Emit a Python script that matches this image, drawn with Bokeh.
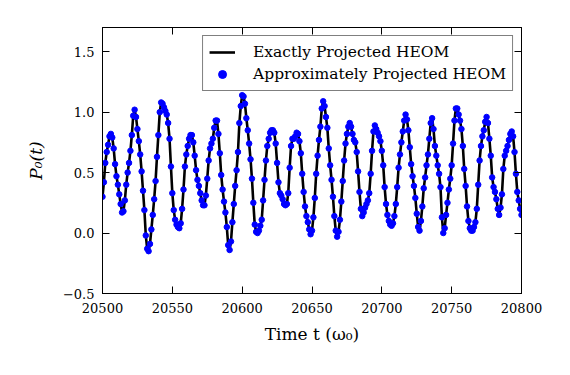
from bokeh.plotting import figure
from bokeh.models import (ColumnDataSource, Range1d, FixedTicker, LinearAxis,
                          Legend, LegendItem)
from bokeh.embed import file_html
from bokeh.resources import INLINE

# ---- data ----
t_start = 20500
t_step = 1.0
p0_values = [
    0.30, 0.42, 0.58, 0.67, 0.73, 0.80, 0.82, 0.79, 0.70, 0.57,
    0.47, 0.40, 0.32, 0.24, 0.17, 0.18, 0.27, 0.40, 0.50, 0.58,
    0.68, 0.81, 0.97, 1.02, 0.96, 0.86, 0.76, 0.65, 0.51, 0.35,
    0.19, -0.02, -0.13, -0.15, -0.09, 0.03, 0.15, 0.28, 0.43, 0.63,
    0.81, 1.00, 1.08, 1.07, 1.04, 1.01, 0.98, 0.91, 0.78, 0.55,
    0.33, 0.19, 0.11, 0.07, 0.05, 0.04, 0.08, 0.20, 0.36, 0.55,
    0.65, 0.72, 0.78, 0.81, 0.81, 0.75, 0.64, 0.52, 0.44, 0.39,
    0.33, 0.27, 0.23, 0.23, 0.31, 0.45, 0.60, 0.70, 0.74, 0.78,
    0.87, 0.93, 0.93, 0.82, 0.66, 0.48, 0.36, 0.26, 0.17, 0.05,
    -0.10, -0.14, -0.07, 0.09, 0.24, 0.39, 0.52, 0.67, 0.91, 1.05,
    1.14, 1.13, 1.07, 0.95, 0.85, 0.74, 0.61, 0.45, 0.25, 0.07,
    0.01, 0.00, 0.02, 0.06, 0.11, 0.27, 0.44, 0.60, 0.72, 0.78,
    0.83, 0.85, 0.85, 0.83, 0.74, 0.58, 0.42, 0.33, 0.31, 0.28,
    0.24, 0.23, 0.24, 0.33, 0.54, 0.72, 0.78, 0.78, 0.80, 0.83,
    0.82, 0.76, 0.66, 0.49, 0.34, 0.22, 0.14, 0.09, 0.03, -0.01,
    0.02, 0.13, 0.29, 0.49, 0.64, 0.77, 0.88, 1.03, 1.09, 1.05,
    0.96, 0.87, 0.70, 0.56, 0.44, 0.30, 0.14, 0.02, -0.03, 0.01,
    0.11, 0.26, 0.43, 0.60, 0.74, 0.82, 0.88, 0.91, 0.88, 0.82,
    0.77, 0.75, 0.67, 0.51, 0.34, 0.20, 0.14, 0.17, 0.21, 0.24,
    0.27, 0.33, 0.49, 0.68, 0.84, 0.89, 0.86, 0.83, 0.80, 0.76,
    0.68, 0.56, 0.38, 0.24, 0.15, 0.10, 0.07, 0.06, 0.08, 0.14,
    0.24, 0.38, 0.54, 0.65, 0.75, 0.84, 0.93, 0.98, 0.94, 0.85,
    0.71, 0.57, 0.47, 0.39, 0.29, 0.16, 0.05, 0.02, 0.10, 0.22,
    0.37, 0.46, 0.56, 0.65, 0.78, 0.91, 0.95, 0.86, 0.72, 0.64,
    0.56, 0.49, 0.38, 0.13, 0.00, 0.04, 0.15, 0.25, 0.36, 0.45,
    0.56, 0.74, 0.93, 1.03, 1.03, 0.98, 0.93, 0.86, 0.72, 0.53,
    0.39, 0.22, 0.10, 0.04, 0.02, 0.02, 0.05, 0.09, 0.20, 0.40,
    0.60, 0.72, 0.80, 0.85, 0.92, 0.96, 0.91, 0.78, 0.64, 0.46,
    0.38, 0.34, 0.28, 0.20, 0.15, 0.21, 0.32, 0.53, 0.64, 0.68,
    0.72, 0.77, 0.82, 0.84, 0.80, 0.67, 0.49, 0.34, 0.27, 0.20,
    0.15,
]
time_values = [t_start + i * t_step for i in range(len(p0_values))]

x_ticks = [20500, 20550, 20600, 20650, 20700, 20750, 20800]
y_ticks = [-0.5, 0.0, 0.5, 1.0, 1.5]
y_tick_labels = ["\u22120.5", "0.0", "0.5", "1.0", "1.5"]
series_names = ["Exactly Projected HEOM", "Approximately Projected HEOM"]

FONT = "DejaVu Serif"

src = ColumnDataSource(dict(t=time_values, p=p0_values))

p = figure(width=570, height=375,
           x_range=Range1d(20500, 20800), y_range=Range1d(-0.5, 1.7),
           output_backend="svg", toolbar_location=None,
           min_border_left=102, min_border_right=49,
           min_border_top=27, min_border_bottom=82)
p.background_fill_color = "white"
p.border_fill_color = "white"
p.outline_line_color = "black"
p.outline_line_width = 1
p.xgrid.visible = False
p.ygrid.visible = False

r_line = p.line("t", "p", source=src, line_color="black", line_width=2.6)
r_dots = p.scatter("t", "p", source=src, size=5.5, fill_color="#0000ff",
                   line_color="#0000ff")

# bottom / left axes
xt = FixedTicker(ticks=x_ticks)
yt = FixedTicker(ticks=y_ticks)
for ax in (p.xaxis[0], p.yaxis[0]):
    ax.major_tick_in = 7
    ax.major_tick_out = 0
    ax.minor_tick_line_color = None
    ax.axis_line_color = "black"
    ax.major_tick_line_color = "black"
    ax.major_label_text_font = FONT
    ax.major_label_text_font_size = "13px"
    ax.major_label_text_color = "black"
    ax.axis_label_text_font = FONT
    ax.axis_label_text_font_size = "17px"
    ax.axis_label_text_font_style = "normal"
    ax.axis_label_text_color = "black"
p.xaxis[0].ticker = xt
p.yaxis[0].ticker = yt
p.yaxis[0].major_label_overrides = {v: s for v, s in zip(y_ticks, y_tick_labels)}
p.xaxis[0].major_label_standoff = 9
p.yaxis[0].major_label_standoff = 8
p.xaxis[0].axis_label = "Time t (\u03c9\u2080)"
p.xaxis[0].axis_label_standoff = 8
p.yaxis[0].axis_label = "P\u2080(t)"
p.yaxis[0].axis_label_text_font_style = "italic"
p.yaxis[0].axis_label_standoff = 14

# top / right axes (ticks only, labels not drawn)
top = LinearAxis(ticker=FixedTicker(ticks=x_ticks), major_tick_in=7,
                 major_tick_out=0, minor_tick_line_color=None,
                 major_label_text_color=None, major_label_text_font_size="8px",
                 major_label_standoff=0, axis_line_color="black")
right = LinearAxis(ticker=FixedTicker(ticks=y_ticks), major_tick_in=7,
                   major_tick_out=0, minor_tick_line_color=None,
                   major_label_text_color=None, major_label_text_font_size="8px",
                   major_label_standoff=0, axis_line_color="black")
p.add_layout(top, "above")
p.add_layout(right, "right")

legend = Legend(items=[LegendItem(label=series_names[0], renderers=[r_line]),
                       LegendItem(label=series_names[1], renderers=[r_dots])],
                location="top_right", margin=8, padding=6, spacing=2,
                glyph_width=26, glyph_height=20, label_standoff=18,
                label_text_font=FONT, label_text_font_size="15.5px",
                label_text_color="black", border_line_color="black",
                border_line_width=1.5, background_fill_color="white",
                background_fill_alpha=1.0)
p.add_layout(legend, "center")

open("out.html", "w").write(file_html(p, INLINE))
